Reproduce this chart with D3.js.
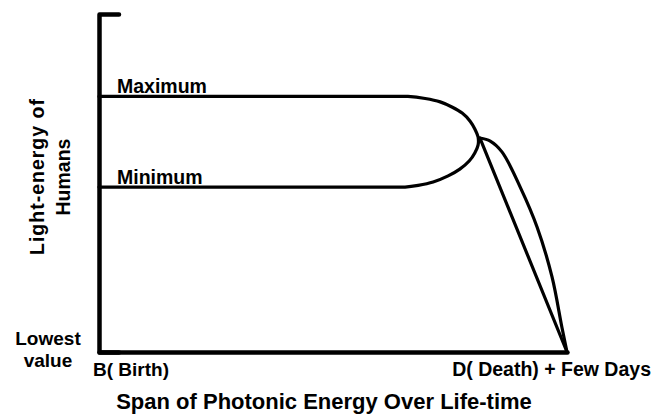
<!DOCTYPE html>
<html lang="en">
<head>
  <meta charset="UTF-8">
  <title>Span of Photonic Energy Over Life-time</title>
  <style>
    body {
      margin: 0;
      background: #fff;
    }
    svg {
      display: block;
      font-family: "Liberation Sans", Arial, sans-serif;
      font-weight: bold;
    }
    .line {
      fill: none;
      stroke: #000;
      stroke-width: 3.2;
      stroke-linejoin: round;
      stroke-linecap: round;
    }
    .axis path {
      stroke: #000;
      stroke-width: 4.5;
      stroke-linecap: round;
      stroke-linejoin: round;
    }
  </style>
</head>
<body>
  <svg id="chart" width="654" height="416"></svg>

  <script src="https://d3js.org/d3.v7.min.js"></script>
  <script>
    // levels of light-energy (0 = lowest value, 100 = top of axis)
    const levelNames = ["Maximum", "Minimum"];
    const levelValues = [75.6, 48.8];

    // life-time runs 0 (birth) .. 100 (death + few days)
    const xLabels = ["B( Birth)", "D( Death) + Few Days"];
    const yLabels = ["Lowest", "value"];

    // upper branch from birth round to the knee
    const maxLine = [[0, 75.6], [62, 75.6], [66.0, 75.6], [69.7, 75.0], [72.9, 74.0], [75.4, 72.5],
                     [77.6, 70.7], [79.3, 68.3], [80.3, 66.0], [81.0, 63.6]];
    // lower branch from birth round to the knee
    const minLine = [[0, 48.8], [62, 48.8], [65.4, 48.8], [68.2, 49.3], [71.4, 50.3], [74.6, 52.1],
                     [77.1, 54.1], [79.1, 56.5], [80.3, 58.9], [81.0, 61.2]];

    // the two falls from the knee down to death
    const fallStraight = [[81.4, 63.3], [100, 0]];
    const fallCurve = [[81.4, 63.3], [83.6, 62.4], [86.1, 59.2], [90.0, 48.8], [93.6, 37.0],
                       [96.8, 22.2], [98.9, 7.4], [100, 0]];

    const svg = d3.select("#chart");

    const x = d3.scaleLinear().domain([0, 100]).range([99, 567]);
    const y = d3.scaleLinear().domain([0, 100]).range([352, 14]);

    // axes: no ticks, only the frame; the left one gets a short hook at the top
    svg.append("g")
      .attr("class", "axis")
      .attr("transform", `translate(${x(0)},0)`)
      .call(d3.axisLeft(y).ticks(0).tickSizeOuter(-20));

    svg.append("g")
      .attr("class", "axis")
      .attr("transform", `translate(0,${y(0)})`)
      .call(d3.axisBottom(x).ticks(0).tickSizeOuter(0));

    const line = d3.line()
      .x(d => x(d[0]))
      .y(d => y(d[1]))
      .curve(d3.curveCatmullRom.alpha(0.5));

    // lens: max line around the knee and back along the min line
    const lens = maxLine.concat(minLine.slice().reverse());
    svg.append("path").attr("class", "line").attr("d", line(lens));

    svg.append("path").attr("class", "line").attr("d", line(fallStraight));
    svg.append("path").attr("class", "line").attr("d", line(fallCurve));

    // level labels
    svg.selectAll(".level")
      .data(levelNames)
      .join("text")
      .attr("class", "level")
      .attr("x", x(0) + 18)
      .attr("y", (d, i) => y(levelValues[i]) - 3)
      .attr("font-size", "19.5px")
      .text(d => d);

    // x labels
    svg.append("text")
      .attr("x", x(0) - 6)
      .attr("y", y(0) + 24)
      .attr("font-size", "19px")
      .text(xLabels[0]);

    svg.append("text")
      .attr("x", x(100) + 84)
      .attr("y", y(0) + 24)
      .attr("text-anchor", "end")
      .attr("font-size", "19.5px")
      .text(xLabels[1]);

    // y label at the bottom
    svg.selectAll(".ylab")
      .data(yLabels)
      .join("text")
      .attr("class", "ylab")
      .attr("x", 48)
      .attr("y", (d, i) => y(0) - 7 + i * 22)
      .attr("text-anchor", "middle")
      .attr("font-size", "19px")
      .text(d => d);

    // axis titles
    svg.append("text")
      .attr("x", 324)
      .attr("y", 409)
      .attr("text-anchor", "middle")
      .attr("font-size", "22px")
      .text("Span of Photonic Energy Over Life-time");

    const yTitle = svg.append("text")
      .attr("transform", "translate(44,177) rotate(-90)")
      .attr("text-anchor", "middle")
      .attr("font-size", "19.5px");

    yTitle.append("tspan")
      .attr("x", 0)
      .attr("textLength", 156)
      .attr("lengthAdjust", "spacing")
      .text("Light-energy of");

    yTitle.append("tspan")
      .attr("x", 0)
      .attr("dy", 26)
      .text("Humans");
  </script>
</body>
</html>
